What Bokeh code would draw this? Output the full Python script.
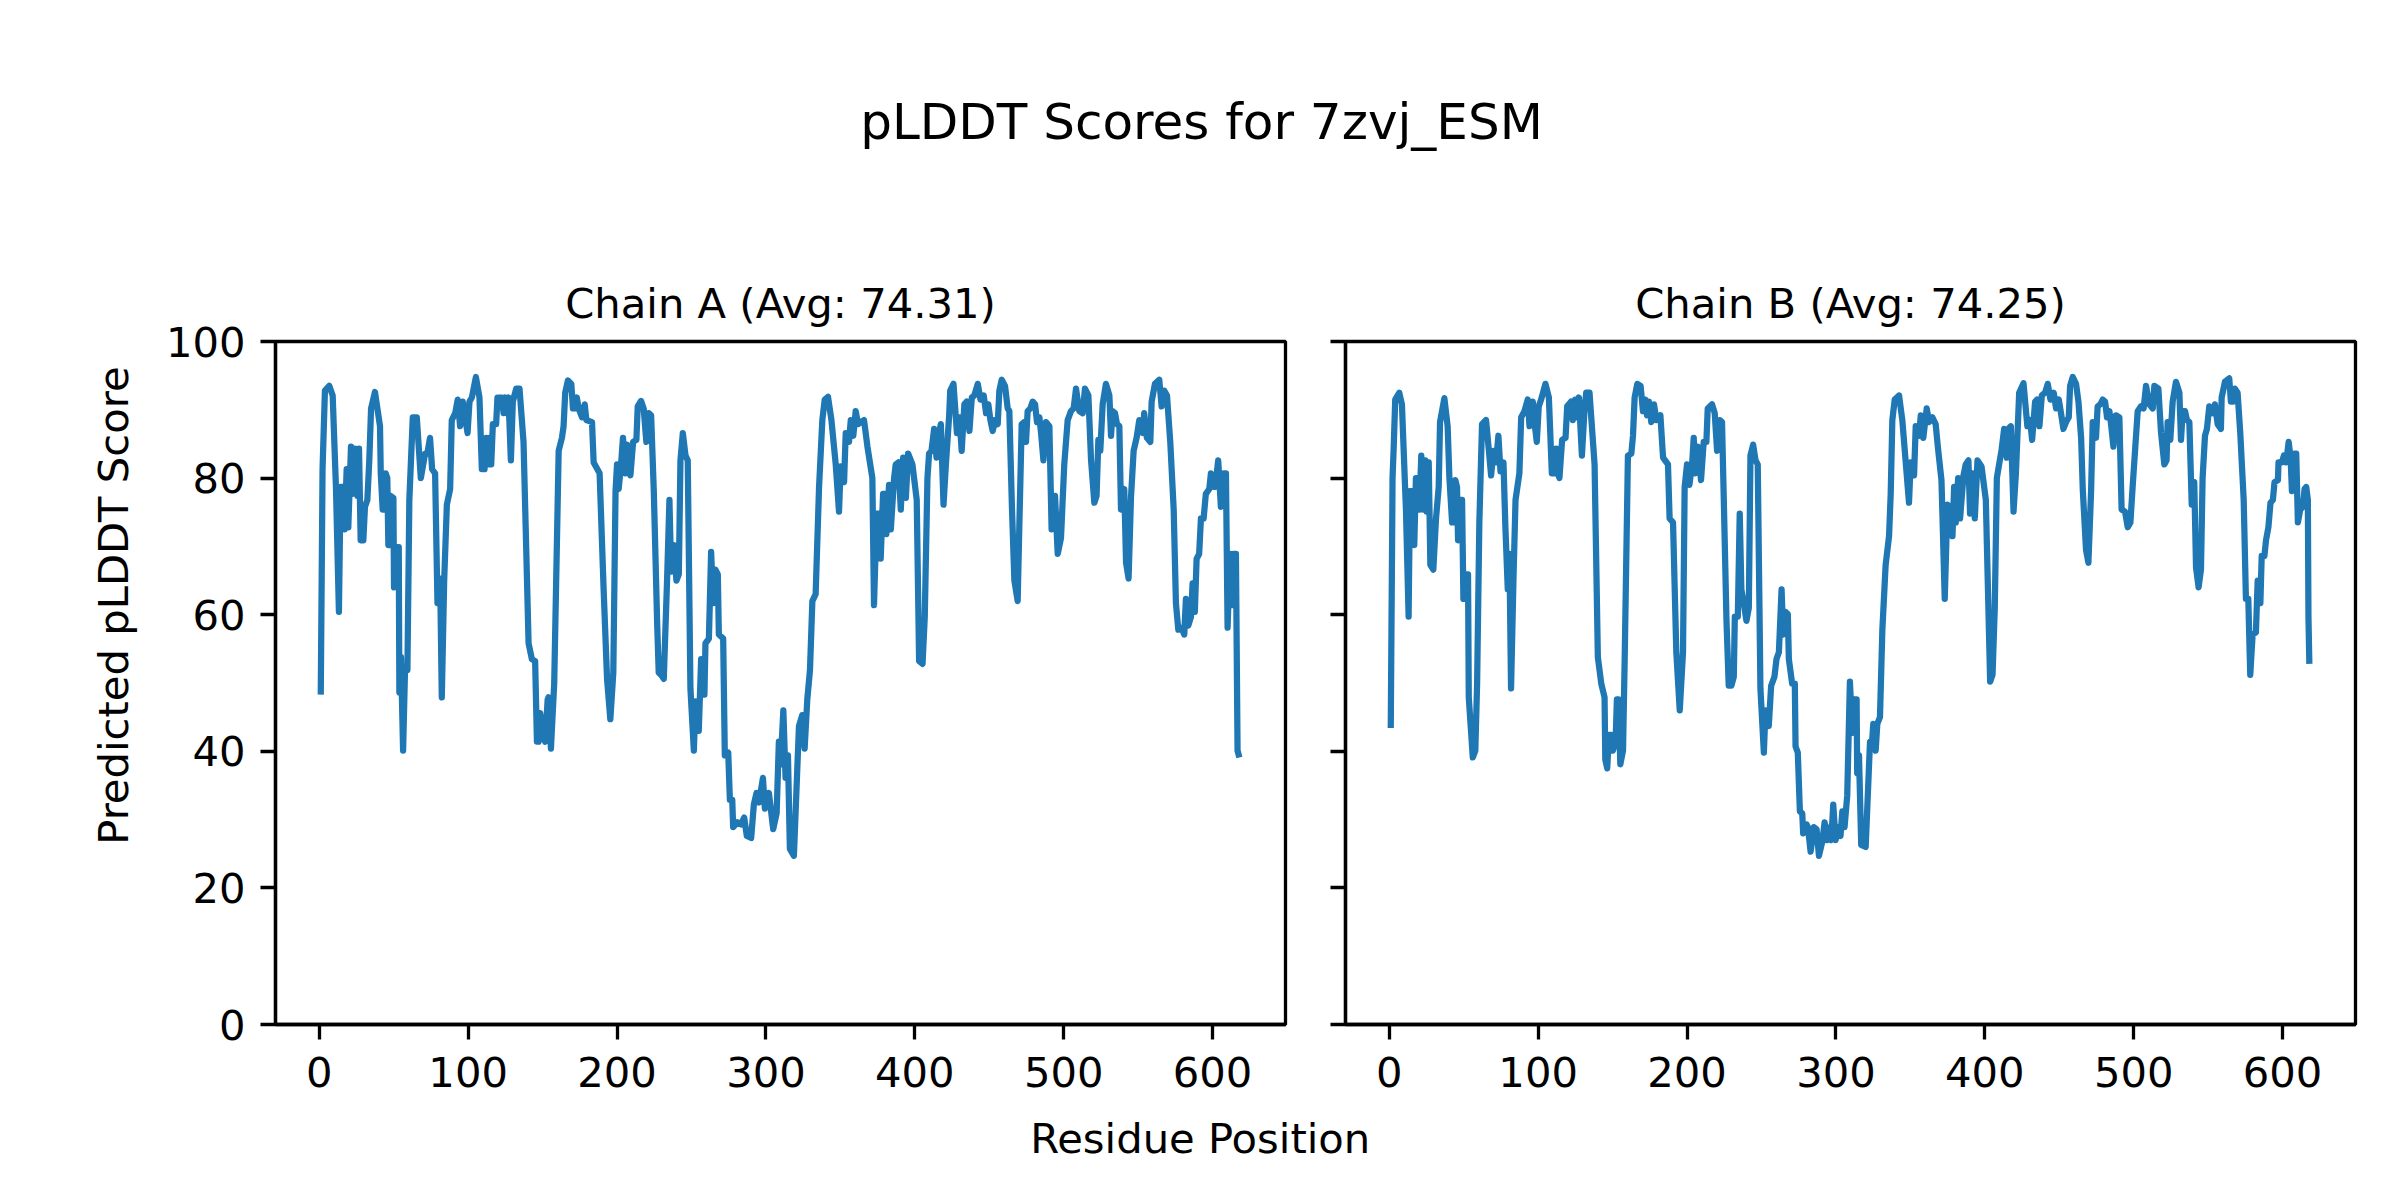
from bokeh.plotting import figure
from bokeh.layouts import column, row
from bokeh.models import Range1d, FixedTicker, Label
from bokeh.embed import file_html
from bokeh.resources import INLINE

# ---------------- data ----------------
protein = "7zvj_ESM"
chains = ["A", "B"]
chain_avg = [74.31, 74.25]
x_ticks = [0, 100, 200, 300, 400, 500, 600]
y_ticks = [0, 20, 40, 60, 80, 100]

res_a = [1, 2.2, 3.8, 6.7, 9, 11.2, 13.2, 14.3, 16.1, 17, 18.4, 19.5, 20.2, 21.3, 22.2, 24, 25.6, 26.7, 27.8, 29.6,
         30.7, 32.3, 33.6, 34.8, 37.4, 40.8, 41.3, 42.6, 43.9, 44.6, 45.7, 46.4, 47.5, 48, 49.8, 50.2, 51.6, 53.4, 53.8, 54.9,
         56.3, 57.6, 59.2, 60.5, 62.8, 65.5, 68.2, 71.1, 72.6, 74.4, 75.8, 77.8, 79.4, 81.2, 82.3, 83.9, 85.7, 87.9, 89, 91.3,
         93, 94.6, 96.4, 98, 99.6, 100.9, 102.5, 105.2, 107.6, 109.2, 111, 112.1, 113.2, 114.3, 115.5, 116.6, 118.8, 119.7, 122.6, 123.8,
         124.9, 126, 127.1, 128.7, 130, 132.3, 134.5, 137.2, 140.6, 142.8, 145, 146.2, 147.3, 148.4, 150.2, 151.8, 153.4, 154, 155.6, 157.8,
         160.8, 163, 164.1, 165.2, 167, 169.3, 170.4, 172, 173, 174.2, 176.5, 178.3, 179.4, 183.2, 184.3, 188.3, 191, 193.3, 195.5, 197.5,
         199, 200, 201.1, 202.7, 204, 205.6, 206.7, 209, 210.8, 213, 213.9, 216.1, 217.9, 219.7, 221.3, 222.9, 224.7, 227, 228, 229.6,
         231.4, 233.6, 235.2, 236.3, 238.1, 239.9, 241.5, 242.6, 244.2, 246, 247.5, 249.3, 251.6, 252.7, 254.9, 256.5, 258.7, 259.4, 261.7, 263.2,
         264.6, 266.1, 267.7, 268.4, 271.3, 272.4, 274.7, 275.8, 277.4, 278, 280.9, 283.2, 285.4, 287.2, 290.1, 291.9, 293.7, 295.3, 298, 299.3,
         302, 304.9, 307.2, 308.7, 309.9, 311.7, 313.2, 314.8, 316.1, 318.8, 322.2, 324.4, 326, 327.8, 329.6, 331.2, 333.4, 335.7, 337.9, 339.5,
         341.7, 344, 346.9, 349.1, 350.2, 352.5, 353.6, 355.8, 357, 358.7, 360.3, 361.9, 363.7, 365.9, 368.2, 371.5, 372.6, 374.4, 376, 377.1,
         378.7, 379.8, 380.9, 382.7, 383.9, 386.1, 387.2, 389, 390.6, 392.2, 394, 395.5, 398.4, 401.3, 402.9, 405.2, 406.7, 408.5, 409.6, 411.2,
         413, 414.6, 415.7, 417.5, 419.3, 420.9, 423.1, 423.8, 426, 428.3, 430, 431.5, 433.3, 434.9, 436.7, 438.3, 440, 442.3, 444.1, 446.3,
         447.9, 449.4, 450.8, 452.3, 454.1, 455.7, 456.8, 458.4, 460.6, 462.4, 463.5, 465.3, 466.9, 469.1, 470.2, 471.8, 473.6, 474.7, 475.8, 477.6,
         479.2, 480.8, 482.1, 483.7, 484.8, 486.4, 488.1, 490.4, 491.9, 494.2, 496, 498.2, 500.4, 502.7, 504.9, 506.7, 508.3, 510.5, 512.8, 514.3,
         516.6, 518.4, 520.6, 522.1, 523.3, 524.6, 526.2, 528.4, 530.7, 531.8, 532.9, 534.5, 535.8, 537.4, 538.5, 540.7, 541.9, 543.6, 545.2, 547,
         549, 550.8, 553.1, 554.1, 555.9, 558.2, 559.1, 561.3, 564.2, 565.8, 567.6, 569.4, 571.6, 573.9, 575.4, 577, 579.2, 581, 582.1, 583.7,
         585.5, 586.6, 588.1, 589.3, 591, 592.2, 594, 595.5, 597.8, 598.9, 600.7, 601.8, 603.8, 605.6, 607.4, 609, 610.1, 611.7, 613, 614.1,
         615.7, 616.8, 618]
plddt_a = [48.3, 81.3, 92.8, 93.5, 92.1, 78.7, 60.4, 78.7, 78.7, 72.5, 81.3, 72.8, 77.4, 84.6, 77.7, 84.3, 77.4, 84.3, 70.9, 70.9,
           75.8, 76.8, 82.6, 90.2, 92.6, 87.6, 80.7, 75.4, 75.4, 80.7, 80.0, 70.2, 70.2, 77.4, 77.1, 64.0, 69.9, 69.9, 48.6, 53.8,
           40.1, 51.9, 51.9, 76.8, 88.9, 88.9, 80.0, 83.6, 83.6, 85.9, 81.3, 80.7, 61.7, 65.3, 47.9, 65.0, 76.1, 78.4, 88.5, 89.5,
           91.5, 87.6, 91.2, 88.9, 86.6, 91.2, 91.8, 94.8, 91.8, 81.3, 81.3, 85.9, 82.0, 85.9, 82.0, 87.9, 87.9, 91.8, 91.8, 89.5,
           91.8, 89.5, 91.8, 82.6, 91.2, 93.1, 93.1, 85.3, 55.8, 53.5, 53.2, 41.4, 41.4, 45.6, 42.1, 41.4, 47.6, 47.9, 40.4, 49.9,
           84.0, 85.9, 87.6, 92.5, 94.3, 93.8, 90.2, 90.2, 91.8, 90.2, 88.9, 90.8, 88.5, 88.2, 82.3, 80.7, 63.7, 50.6, 44.7, 51.5,
           78.1, 82.0, 78.4, 82.0, 85.9, 80.7, 84.9, 80.4, 85.3, 85.6, 90.5, 91.3, 90.2, 85.3, 89.5, 89.2, 78.1, 58.4, 51.5, 51.2,
           50.6, 65.0, 76.8, 66.3, 70.2, 65.0, 65.9, 82.6, 86.6, 83.3, 82.6, 49.2, 40.1, 47.3, 43.0, 53.5, 48.3, 55.8, 56.5, 69.2,
           61.7, 66.6, 65.9, 57.1, 56.5, 39.4, 39.8, 32.9, 32.9, 28.9, 29.6, 29.3, 30.3, 27.6, 27.3, 32.2, 33.9, 32.5, 36.1, 31.6,
           33.9, 28.6, 30.9, 41.4, 38.1, 46.0, 36.1, 39.4, 25.7, 24.7, 43.7, 45.3, 40.4, 47.6, 51.9, 62.0, 63.0, 78.7, 88.5, 91.5,
           91.9, 88.5, 82.0, 75.1, 81.7, 79.4, 86.6, 85.3, 88.5, 86.2, 89.8, 87.9, 88.2, 88.5, 84.6, 80.0, 61.4, 74.8, 74.8, 68.2,
           77.7, 77.7, 71.8, 79.0, 72.5, 80.0, 82.0, 82.3, 75.4, 83.0, 77.1, 83.6, 82.0, 76.8, 53.2, 52.8, 59.7, 80.0, 83.6, 84.0,
           87.2, 83.0, 85.9, 87.9, 76.1, 82.0, 89.2, 92.8, 93.8, 86.6, 88.9, 84.0, 90.8, 91.2, 86.9, 91.8, 92.1, 93.8, 91.5, 92.1,
           89.5, 90.8, 88.5, 86.9, 88.5, 87.9, 92.8, 94.4, 93.5, 90.2, 89.8, 75.4, 65.0, 62.0, 72.8, 87.9, 88.2, 85.3, 89.8, 90.2,
           91.2, 90.8, 88.2, 88.9, 86.6, 82.6, 88.2, 87.6, 72.5, 77.4, 68.9, 71.2, 82.0, 88.5, 89.8, 90.2, 93.1, 89.8, 89.5, 93.1,
           92.1, 82.6, 76.4, 77.4, 85.6, 84.0, 90.8, 93.8, 92.1, 86.2, 89.8, 89.5, 87.9, 87.6, 75.4, 78.4, 67.6, 65.3, 77.1, 84.0,
           85.9, 88.5, 86.6, 89.5, 85.9, 85.3, 91.2, 93.8, 94.4, 90.5, 92.8, 92.1, 85.3, 75.4, 61.7, 57.8, 58.1, 57.1, 62.3, 58.4,
           59.7, 64.6, 60.4, 68.2, 68.9, 74.1, 74.1, 77.7, 78.4, 80.7, 78.7, 78.7, 82.6, 75.8, 80.7, 80.7, 58.1, 68.9, 61.4, 68.9,
           68.9, 40.1, 39.1]

res_b = [1, 2.2, 3, 4, 6.7, 8.5, 11.2, 13, 13.9, 15.7, 16.8, 17.9, 19.1, 20.2, 21.5, 22.9, 24.2, 25.1, 26.5, 27.6,
         29.6, 31.4, 33.2, 34.1, 37, 39.2, 40.4, 42.2, 43.7, 44.4, 45.5, 46.2, 47.5, 48.9, 49.8, 51.1, 52, 52.9, 53.4, 56.1,
         57.8, 59, 60.5, 62.3, 65, 66.8, 68.4, 69.9, 71.7, 73.3, 74.7, 76.7, 78, 79.6, 80.7, 81.8, 83.4, 84.8, 87.4, 88.6,
         90.8, 93, 94.2, 96.4, 97.5, 99.1, 100.4, 102, 104.9, 107.2, 109.2, 110.9, 112.1, 113.2, 114.3, 116.1, 118.4, 119.5, 122.2, 123.3,
         124.9, 126, 127.4, 129.4, 131.2, 132.3, 134.5, 137.9, 140.1, 142.4, 144.6, 145.1, 146.4, 147.5, 149.1, 150.2, 152, 152.9, 154, 155.2,
         157, 158.1, 160.3, 162.6, 163.7, 164.8, 166.6, 168.8, 170.4, 172, 173.1, 174.4, 176, 177.8, 179.4, 182.1, 183.9, 187.2, 188.3, 190.6,
         192.8, 195.1, 197.3, 198.4, 200, 201.6, 203.4, 204.5, 205.6, 207.2, 209.4, 211.2, 213, 213.9, 216.8, 218.6, 220.2, 222, 223.5, 224.7,
         226.5, 228, 229.8, 231.4, 232.1, 234.1, 235.4, 236.5, 238.1, 239.9, 241.5, 242.6, 244.4, 246, 247.5, 249.3, 251.6, 252.7, 254.9, 256.5,
         258.7, 260.1, 261.7, 263.5, 264.6, 266.1, 267.7, 268.4, 270.6, 272.4, 272.9, 274.4, 275.8, 277.4, 278, 280.3, 281.2, 283, 285.2, 287,
         288.6, 290.8, 292.4, 294.2, 296, 296.9, 298.2, 299.8, 301.6, 303.1, 304.3, 305.8, 307.6, 309.4, 311, 312.1, 313.9, 314.3, 315.5, 317,
         320, 322.9, 324.4, 325.1, 326.7, 327.8, 329.6, 331.2, 333.4, 335.7, 336.8, 337.9, 339.5, 342.4, 344.6, 346.9, 349.1, 350.2, 352.5, 353.6,
         355.8, 357, 358.7, 361, 362.6, 364.8, 367, 368.6, 370.9, 373.1, 374.9, 376.7, 378.3, 379.4, 380.5, 382.1, 383.4, 385.7, 387.2, 389,
         390.1, 391.7, 393.3, 395.1, 397.8, 400.7, 403.6, 405.2, 406.7, 408.1, 409.6, 411.2, 413, 414.8, 415.7, 417.5, 419.3, 420.9, 423.1, 426,
         428.6, 430.4, 431.8, 433.8, 435.1, 436.7, 438.3, 440.5, 442.3, 444.1, 446.3, 447.9, 449.7, 451.2, 452.8, 454.6, 456.4, 457.3, 459.1, 461.3,
         462.9, 464.7, 465.8, 468, 469.6, 471.4, 472.5, 474.7, 475.8, 477.6, 479.2, 480.8, 482.1, 483.7, 484.8, 486.4, 488.1, 490.4, 491.9, 494.2,
         496, 497.8, 499.3, 501.1, 502.7, 504.9, 506.7, 508.3, 510.5, 512.8, 513.9, 516.6, 518.4, 520.6, 522.1, 522.8, 524.6, 526.2, 528.4, 530.7,
         531.8, 532.9, 534.5, 535.8, 537.4, 539, 540.7, 541.9, 543.6, 545.2, 546.3, 547.9, 549.2, 550.8, 553.1, 554.6, 556.4, 558.6, 559.1, 561.3,
         564.2, 565.3, 566.9, 568, 569.8, 571.6, 573.9, 575.4, 577, 578.3, 579.9, 582.1, 583.3, 585.1, 586, 587.8, 588.9, 590.5, 591.9, 593.5,
         594.6, 596.9, 597.3, 599.6, 600.9, 602.5, 604.1, 605.4, 606.3, 608.1, 609.2, 610.3, 611.9, 613.7, 614.8, 615.9, 617, 617.4, 618]
plddt_b = [43.4, 80.0, 84.6, 91.5, 92.5, 90.8, 75.4, 59.7, 78.1, 78.1, 70.2, 80.0, 80.0, 75.4, 83.3, 75.4, 82.6, 75.1, 82.3, 67.3,
           66.6, 74.1, 78.7, 88.2, 91.7, 87.6, 80.0, 73.5, 73.5, 79.7, 78.7, 70.9, 76.8, 76.8, 62.3, 62.3, 65.9, 65.9, 47.9, 39.1,
           40.1, 49.9, 73.5, 87.9, 88.5, 84.3, 80.4, 84.0, 82.3, 86.2, 81.0, 82.3, 72.8, 63.7, 68.9, 49.2, 65.0, 76.8, 80.7, 88.9,
           89.8, 91.5, 87.6, 91.2, 88.2, 85.3, 90.5, 91.5, 93.8, 91.8, 80.7, 80.7, 84.3, 80.7, 80.0, 85.6, 85.9, 90.5, 91.2, 88.5,
           91.5, 88.9, 91.8, 83.3, 90.2, 92.5, 92.5, 82.0, 53.8, 49.9, 47.9, 38.8, 37.5, 42.4, 42.4, 40.1, 41.4, 47.6, 47.6, 38.1,
           40.1, 53.2, 83.3, 83.6, 86.2, 91.8, 93.8, 93.5, 89.8, 91.5, 89.2, 91.2, 88.2, 90.8, 88.5, 89.2, 83.0, 82.0, 74.1, 73.5,
           54.5, 46.0, 54.5, 78.7, 82.0, 79.0, 82.0, 85.9, 80.7, 84.6, 79.7, 85.3, 85.3, 90.2, 90.8, 89.5, 84.0, 88.5, 88.2, 76.8,
           59.1, 49.6, 49.6, 50.9, 59.7, 59.7, 74.8, 63.7, 61.7, 59.1, 61.0, 83.3, 84.9, 82.6, 82.0, 49.2, 39.8, 46.0, 43.7, 49.6,
           50.9, 53.5, 54.5, 63.7, 57.1, 60.4, 60.1, 53.5, 49.9, 49.9, 40.7, 39.8, 31.2, 30.9, 28.0, 29.3, 28.9, 25.3, 28.9, 28.6,
           24.7, 26.7, 29.6, 27.0, 28.9, 27.0, 32.2, 27.0, 28.9, 27.6, 31.2, 28.9, 33.5, 50.2, 42.7, 47.6, 47.6, 36.8, 39.4, 26.3,
           26.0, 41.4, 41.7, 44.0, 40.1, 44.0, 45.0, 57.8, 67.3, 71.5, 77.7, 88.5, 91.5, 92.1, 88.5, 82.3, 76.4, 82.3, 80.4, 87.6,
           86.2, 89.2, 85.9, 90.2, 88.2, 88.9, 87.9, 84.3, 79.7, 62.3, 76.1, 75.8, 71.5, 78.7, 73.5, 80.0, 74.1, 80.4, 82.0, 82.6,
           74.8, 80.7, 74.1, 82.6, 81.7, 76.8, 50.2, 51.2, 61.0, 80.0, 82.0, 84.0, 87.2, 83.0, 87.2, 87.6, 75.1, 80.7, 92.5, 93.9,
           87.6, 88.5, 85.6, 91.2, 91.5, 87.6, 92.1, 92.5, 93.8, 91.5, 92.5, 90.2, 91.5, 89.5, 87.2, 88.2, 88.9, 93.5, 94.8, 93.8,
           91.2, 85.9, 78.4, 69.5, 67.6, 78.1, 88.2, 85.9, 90.5, 90.8, 91.5, 91.2, 88.9, 89.8, 87.9, 84.6, 89.2, 88.9, 75.4, 75.1,
           72.8, 73.5, 78.7, 84.6, 89.8, 90.5, 90.2, 93.5, 90.8, 90.2, 93.5, 93.1, 86.6, 82.0, 82.6, 88.2, 85.6, 91.2, 94.1, 92.5,
           85.6, 89.8, 89.8, 88.5, 88.2, 76.1, 79.4, 66.9, 64.0, 66.6, 80.0, 86.2, 87.2, 90.5, 89.5, 90.8, 87.9, 87.2, 91.8, 94.1,
           94.6, 91.2, 91.2, 93.1, 92.5, 86.6, 76.8, 62.3, 62.3, 51.2, 57.1, 57.4, 65.0, 61.7, 68.6, 68.6, 70.9, 72.8, 76.4, 76.8,
           79.4, 79.7, 82.3, 82.3, 83.3, 82.3, 85.3, 83.0, 78.1, 83.6, 83.6, 73.5, 75.4, 75.8, 78.4, 78.7, 76.8, 59.7, 52.8]

# ---------------- styling / layout ----------------
FONT = "DejaVu Sans"
TXT = "41.7px"
LINE_COLOR = "#1f77b4"
TOTAL_W = 2400
TOP_B = 85          # space above each frame (holds the chain title)
BOT_B = 88
HEADER_H = 341 - TOP_B
ROW_H = TOP_B + 683 + BOT_B
FOOTER_H = 1200 - HEADER_H - ROW_H
FRAME_W, FRAME_H = 1010, 683


def blank(width, height):
    f = figure(width=width, height=height, x_range=Range1d(0, width), y_range=Range1d(0, height),
               x_axis_type=None, y_axis_type=None, toolbar_location=None, output_backend="svg",
               min_border=0, title=None)
    f.outline_line_color = None
    f.grid.visible = False
    return f


def panel(title, xs, ys, show_ylabels, left, right):
    p = figure(frame_width=FRAME_W, frame_height=FRAME_H,
               x_range=Range1d(-29.4, 649.0), y_range=Range1d(0, 100),
               toolbar_location=None, output_backend="svg", title=title,
               min_border_left=left, min_border_right=right, min_border_top=TOP_B, min_border_bottom=BOT_B)
    p.title.align = "center"
    p.title.text_font = FONT
    p.title.text_font_size = TXT
    p.title.text_font_style = "normal"
    p.title.text_color = "black"
    p.title.standoff = 27
    p.line(xs, ys, line_color=LINE_COLOR, line_width=6.25, line_join="round")
    p.grid.visible = False
    p.outline_line_color = "black"
    p.outline_line_width = 3.3
    p.outline_line_alpha = 1.0
    p.xaxis.ticker = FixedTicker(ticks=x_ticks)
    p.yaxis.ticker = FixedTicker(ticks=y_ticks)
    for ax in (p.xaxis[0], p.yaxis[0]):
        ax.axis_line_color = "black"
        ax.axis_line_width = 3.3
        ax.major_tick_line_color = "black"
        ax.major_tick_line_width = 3.3
        ax.major_tick_out = 15
        ax.major_tick_in = 0
        ax.minor_tick_line_color = None
        ax.major_label_text_font = FONT
        ax.major_label_text_font_size = TXT
        ax.major_label_text_color = "black"
    p.xaxis.major_label_standoff = 17
    p.yaxis.major_label_standoff = 15
    if not show_ylabels:
        p.yaxis.major_label_overrides = {t: "" for t in y_ticks}
    return p


titles = [f"Chain {ch} (Avg: {avg:.2f})" for ch, avg in zip(chains, chain_avg)]
pA = panel(titles[0], res_a, plddt_a, True, 130, 20)
pB = panel(titles[1], res_b, plddt_b, False, 40, 45)

MID = 0.33 * 41.7   # offset from baseline to the "middle" anchor

# header: figure-level title
header = blank(TOTAL_W, HEADER_H)
header.add_layout(Label(x=1201, y=HEADER_H - (137.5 - 0.33 * 50), text=f"pLDDT Scores for {protein}",
                        text_align="center", text_baseline="middle",
                        text_font=FONT, text_font_size="50px", text_color="black"))

# left strip: shared y label
lab = blank(145, ROW_H)
lab.add_layout(Label(x=126.7 - MID, y=ROW_H - (587 - HEADER_H), text="Predicted pLDDT Score",
                     angle=90, angle_units="deg", text_align="center", text_baseline="middle",
                     text_font=FONT, text_font_size=TXT, text_color="black"))

# footer: shared x label
footer = blank(TOTAL_W, FOOTER_H)
footer.add_layout(Label(x=1199.7, y=FOOTER_H - (1151.7 - MID - (HEADER_H + ROW_H)), text="Residue Position",
                        text_align="center", text_baseline="middle",
                        text_font=FONT, text_font_size=TXT, text_color="black"))

layout = column(header, row(lab, pA, pB, spacing=0), footer, spacing=0)

open("out.html", "w").write(file_html(layout, INLINE))
